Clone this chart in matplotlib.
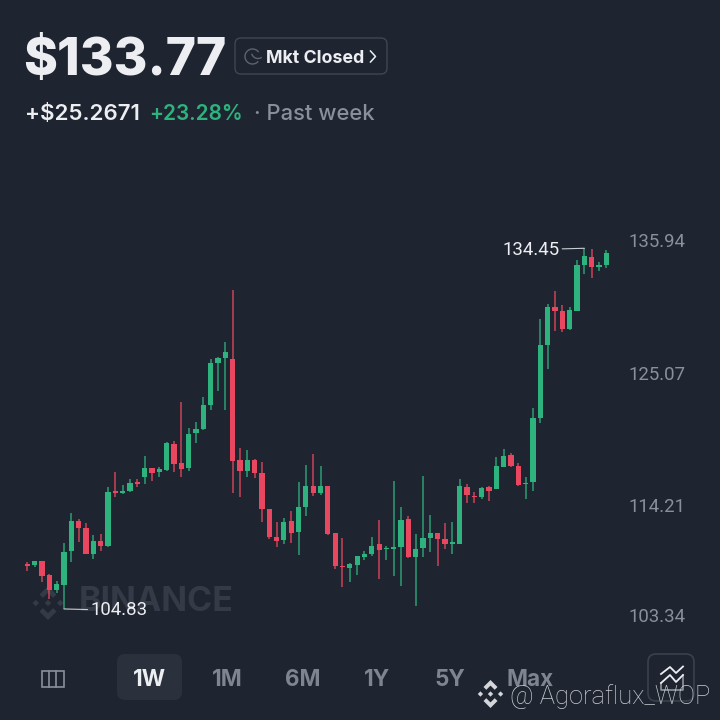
import matplotlib
matplotlib.use("Agg")
import matplotlib.pyplot as plt
from matplotlib.patches import FancyBboxPatch, Polygon, Arc, Rectangle

opens = [108.52,108.46,108.74,107.59,106.41,106.80,109.59,112.03,111.48,109.35,
         110.39,110.00,114.52,114.33,114.54,115.23,115.67,116.37,116.04,116.25,
         118.41,116.85,116.39,119.28,119.61,121.58,125.05,125.44,125.33,117.07,
         116.16,117.07,115.97,113.04,110.77,110.49,112.03,111.13,113.18,114.96,
         114.33,114.93,111.05,108.33,108.19,108.46,109.07,109.35,110.14,109.75,
         109.78,109.89,112.19,109.10,109.86,110.69,111.05,110.60,110.19,110.17,
         114.87,114.13,114.02,114.85,114.66,116.51,117.45,116.55,115.07,115.25,
         120.49,126.51,129.63,129.30,127.82,129.30,133.10,133.76,132.94,133.08]
closes = [108.35,108.74,107.53,106.39,106.85,109.53,112.06,111.48,109.35,110.39,
          110.03,114.44,114.36,114.54,115.17,115.07,116.39,116.00,116.33,118.49,
          116.74,116.36,119.20,119.61,121.58,125.03,125.41,125.93,116.98,116.19,
          117.07,115.97,113.04,110.72,110.42,112.00,111.09,113.18,114.96,114.33,
          114.93,111.02,108.36,108.25,108.52,109.15,109.37,110.00,109.70,109.86,
          109.89,112.14,109.07,109.78,110.64,111.05,110.60,110.14,110.30,114.93,
          114.19,114.00,114.77,114.50,116.57,117.43,116.55,115.02,115.17,120.49,
          126.51,129.65,129.30,127.84,129.36,133.10,133.79,132.89,133.02,134.09]
highs = [108.66,108.79,108.74,107.70,107.13,110.22,112.69,112.25,111.87,110.88,
         110.96,114.87,116.10,114.98,115.48,115.48,117.39,116.37,116.49,118.57,
         118.60,121.85,119.67,120.21,122.24,125.36,125.50,126.73,131.02,118.03,
         117.89,117.15,116.88,113.04,111.95,112.28,112.85,115.28,116.63,117.52,
         116.60,114.93,111.05,110.69,108.60,109.20,109.59,110.71,112.14,110.00,
         115.32,113.18,112.44,110.99,115.75,112.52,111.05,111.92,111.98,115.48,
         115.09,114.44,114.82,114.91,117.29,117.99,117.61,116.84,115.64,121.36,
         128.64,129.87,130.94,129.81,129.61,133.46,134.45,134.39,133.30,134.31]
lows = [107.97,108.27,107.02,105.62,106.11,104.83,108.71,110.33,109.35,108.91,
        109.56,109.89,114.00,114.25,114.44,114.87,115.09,115.30,115.69,116.19,
        116.11,115.69,116.19,118.49,119.55,121.15,122.75,121.18,114.33,114.05,
        115.64,115.59,112.00,110.60,109.95,110.17,110.27,109.26,112.49,114.11,
        114.19,110.91,108.09,106.66,107.05,107.65,108.85,109.18,107.29,108.85,
        107.53,106.74,108.99,105.10,109.12,109.53,108.39,109.78,109.35,110.17,
        113.56,113.53,113.84,113.70,114.66,116.51,116.51,114.96,113.89,114.54,
        120.08,124.54,127.66,127.60,127.76,129.30,132.34,132.03,132.59,132.84]

axis_values = [135.94, 125.07, 114.21, 103.34]
axis_labels = ["135.94", "125.07", "114.21", "103.34"]
axis_label_offsets = [12, 13, 12, -10]   # px below the price level
low_label = "104.83"
high_label = "134.45"
ranges = ["1W", "1M", "6M", "1Y", "5Y", "Max"]
range_x = [150, 227.5, 302.5, 377.5, 450, 530]

BG = "#1f2530"
GREEN = "#2eb37f"
RED = "#e9475f"
GRAY = "#8a909b"
WHITE = "#eceef2"
WM = "#343b47"

plt.rcParams["font.family"] = ["Inter", "DejaVu Sans"]
fig = plt.figure(figsize=(7.2, 7.2), dpi=100, facecolor=BG)
PT = 0.72

bgax = fig.add_axes([0, 0, 1, 1], zorder=0)
bgax.set_xlim(0, 720); bgax.set_ylim(720, 0); bgax.axis("off")

bgax.text(79, 602, "BINANCE", color=WM, fontsize=34*PT, fontweight="bold", ha="left", va="center")


def logo(ax, cx, cy, R, color):
    top = [(0, -1), (.5, -.5), (.3, -.3), (0, -.6), (-.3, -.3), (-.5, -.5)]
    cen = [(0, -.19), (.19, 0), (0, .19), (-.19, 0)]
    for pts in (top, [(x, -y) for x, y in top], cen,
                [(x + .72, y) for x, y in cen], [(x - .72, y) for x, y in cen]):
        ax.add_patch(Polygon([(cx + R*x, cy + R*y) for x, y in pts], closed=True,
                             facecolor=color, edgecolor="none"))


logo(bgax, 48, 603, 17, WM)

ax = fig.add_axes([0, 0, 1, 1], zorder=1)
ax.patch.set_alpha(0)
ax.set_xlim(-3.724, 94.5)
ax.set_ylim(95.71, 154.84)
ax.axis("off")
xs = list(range(len(opens)))
colors = [GREEN if c >= o else RED for o, c in zip(opens, closes)]
ax.vlines(xs, lows, highs, colors=colors, lw=1.1, alpha=0.85)
ax.bar(xs, [max(abs(c - o), 0.11) for o, c in zip(opens, closes)],
       bottom=[min(o, c) for o, c in zip(opens, closes)],
       width=0.72, color=colors, linewidth=0)

for v, t, off in zip(axis_values, axis_labels, axis_label_offsets):
    ax.annotate(t, (94.5, v), xytext=(-34*PT, -off*PT), textcoords="offset points",
                color=GRAY, fontsize=18.6*PT, ha="right", va="center", family="Roboto",
                annotation_clip=False)

i_low = lows.index(min(lows))
i_high = highs.index(max(highs))
ax.annotate(low_label, (i_low, lows[i_low]), xytext=(19, -1), textcoords="offset points",
            color=WHITE, fontsize=18.6*PT, ha="left", va="center", family="Roboto",
            arrowprops=dict(arrowstyle="-", color="#c9ccd2", lw=0.8, shrinkA=0, shrinkB=0))
ax.annotate(high_label, (i_high, highs[i_high]), xytext=(-18, -1), textcoords="offset points",
            color=WHITE, fontsize=18.6*PT, ha="right", va="center", family="Roboto",
            arrowprops=dict(arrowstyle="-", color="#c9ccd2", lw=0.8, shrinkA=0, shrinkB=0))

ui = fig.add_axes([0, 0, 1, 1], zorder=2)
ui.patch.set_alpha(0)
ui.set_xlim(0, 720); ui.set_ylim(720, 0); ui.axis("off")

ui.text(23, 56, "$133.77", color=WHITE, fontsize=51.5*PT, fontweight="heavy", ha="left", va="center_baseline")
ui.add_patch(FancyBboxPatch((241, 44), 140, 24, boxstyle="round,pad=6", fc=BG, ec="#434a55", lw=0.9))
# crescent moon
ui.add_patch(Arc((252.5, 56.5), 15, 15, theta1=40, theta2=325, color="#5d6470", lw=1.0))
ui.add_patch(Arc((258, 52), 13, 13, theta1=55, theta2=165, color="#5d6470", lw=1.0))
ui.text(266, 56.5, "Mkt Closed", color=WHITE, fontsize=17.8*PT, fontweight="bold", ha="left", va="center_baseline")
ui.plot([370.5, 375.5, 370.5], [51, 56.5, 62], color=WHITE, lw=1.1)

ui.text(25, 112, "+$25.2671", color=WHITE, fontsize=22.3*PT, fontweight="semibold", ha="left", va="center_baseline")
ui.text(149, 112, "+23.28%", color=GREEN, fontsize=20.8*PT, fontweight="semibold", ha="left", va="center_baseline")
ui.text(254, 112, "\u00b7 Past week", color=GRAY, fontsize=22*PT, fontweight="medium", ha="left", va="center_baseline")

ui.add_patch(FancyBboxPatch((125, 662), 49, 30, boxstyle="round,pad=8", fc="#2a303c", ec="none"))
for t, x in zip(ranges, range_x):
    ui.text(x, 677.5, t, color=WHITE if t == "1W" else "#7e8490", fontsize=22.5*PT,
            fontweight="bold", ha="center", va="center_baseline")
ui.add_patch(Rectangle((41.5, 670.5), 22, 16, fc="none", ec=GRAY, lw=1.2))
for x in (49, 56):
    ui.plot([x, x], [670.5, 686.5], color=GRAY, lw=1.2)

ui.add_patch(FancyBboxPatch((656, 662), 30, 31, boxstyle="round,pad=8", fc="none", ec="#3a414c", lw=1.2))
ui.plot([661, 670, 676, 683], [674, 667, 673, 666.5], color=WHITE, lw=1.3)
ui.plot([661, 670, 676, 683], [683, 675, 682, 675], color=WHITE, lw=1.3)
ui.plot([661, 661, 683, 683], [683, 690, 690, 675], color=WHITE, lw=1.1, alpha=0.6)

logo(ui, 490.5, 694, 14, "#d4d6da")
ui.text(510, 694, "@ Agoraflux_WOP", color="#d8dade", alpha=0.92, fontsize=25.5*PT,
        ha="left", va="center_baseline", family="Roboto", fontweight="light")

fig.savefig("out.png", dpi=100, facecolor=BG)
